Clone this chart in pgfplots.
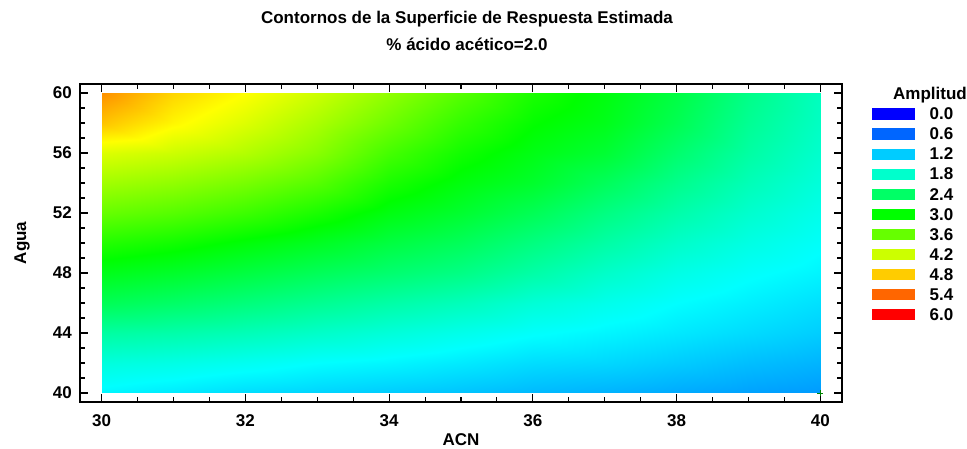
\documentclass[border=0pt]{standalone}
\usepackage{pgfplots}
\pgfplotsset{compat=1.18}
\usepackage{pgfplotstable}
\usepackage{fontspec}
\setmainfont{Liberation Sans}

\definecolor{l0}{RGB}{0,0,255}
\definecolor{l1}{RGB}{0,102,255}
\definecolor{l2}{RGB}{0,204,255}
\definecolor{l3}{RGB}{0,255,204}
\definecolor{l4}{RGB}{0,255,102}
\definecolor{l5}{RGB}{0,255,0}
\definecolor{l6}{RGB}{102,255,0}
\definecolor{l7}{RGB}{204,255,0}
\definecolor{l8}{RGB}{255,204,0}
\definecolor{l9}{RGB}{255,102,0}
\definecolor{l10}{RGB}{255,0,0}

\pgfplotstableread{
x y z
30 40 1.45
31 40 1.38
32 40 1.30
33 40 1.25
34 40 1.20
35 40 1.15
36 40 1.09
37 40 1.05
38 40 1.00
39 40 0.95
40 40 0.91
30 42 1.70
31 42 1.65
32 42 1.58
33 42 1.50
34 42 1.45
35 42 1.38
36 42 1.30
37 42 1.27
38 42 1.20
39 42 1.12
40 42 1.06
30 44 2.05
31 44 2.00
32 44 1.92
33 44 1.82
34 44 1.72
35 44 1.62
36 44 1.52
37 44 1.45
38 44 1.37
39 44 1.29
40 44 1.21
30 46 2.50
31 46 2.40
32 46 2.28
33 46 2.15
34 46 2.02
35 46 1.90
36 46 1.74
37 46 1.62
38 46 1.50
39 46 1.41
40 46 1.32
30 48 2.85
31 48 2.75
32 48 2.62
33 48 2.48
34 48 2.35
35 48 2.22
36 48 2.02
37 48 1.82
38 48 1.65
39 48 1.53
40 48 1.44
30 50 3.20
31 50 3.10
32 50 2.95
33 50 2.80
34 50 2.62
35 50 2.47
36 50 2.25
37 50 2.03
38 50 1.82
39 50 1.66
40 50 1.53
30 52 3.60
31 52 3.50
32 52 3.35
33 52 3.15
34 52 2.90
35 52 2.72
36 52 2.50
37 52 2.24
38 52 2.00
39 52 1.79
40 52 1.62
30 54 3.95
31 54 3.85
32 54 3.70
33 54 3.50
34 54 3.15
35 54 2.92
36 54 2.74
37 54 2.47
38 54 2.18
39 54 1.92
40 54 1.71
30 56 4.30
31 56 4.20
32 56 4.05
33 56 3.80
34 56 3.40
35 56 3.10
36 56 2.88
37 56 2.70
38 56 2.36
39 56 2.04
40 56 1.79
30 58 4.85
31 58 4.55
32 58 4.30
33 58 4.00
34 58 3.65
35 58 3.30
36 58 3.02
37 58 2.85
38 58 2.52
39 58 2.13
40 58 1.85
30 60 5.15
31 60 4.75
32 60 4.50
33 60 4.20
34 60 3.85
35 60 3.50
36 60 3.15
37 60 2.92
38 60 2.60
39 60 2.20
40 60 1.88
}\amp

\begin{document}
\begin{tikzpicture}[x=1pt,y=1pt]
\path[use as bounding box] (0,0) rectangle (967,449);
\begin{axis}[
  at={(80pt,47pt)}, anchor=south west,
  width=762pt, height=318pt, scale only axis,
  xmin=29.7, xmax=40.3, ymin=39.4, ymax=60.6,
  xtick={30,32,34,36,38,40}, ytick={40,44,48,52,56,60},
  minor x tick num=3, minor y tick num=3,
  tick pos=both, tick align=inside,
  major tick length=8pt, minor tick length=5pt,
  axis line style={line width=1.6pt},
  every tick/.style={black, line width=1.1pt},
  /pgf/number format/assume math mode=true,
  tick label style={font=\bfseries\fontsize{17}{20}\selectfont},
  xticklabel style={inner sep=0pt, anchor=north, yshift=-12pt},
  yticklabel style={inner sep=0pt, anchor=east, xshift=-8pt},
  xlabel={ACN}, ylabel={Agua},
  label style={font=\bfseries\fontsize{17}{20}\selectfont},
  xlabel style={at={(axis description cs:0.5,0)}, anchor=center, yshift=-38pt},
  ylabel style={at={(axis description cs:-0.0761,0.5)}, anchor=center},
  title={Contornos de la Superficie de Respuesta Estimada\\\% ácido acético=2.0},
  title style={at={(axis description cs:0.5,1)}, anchor=south, align=center, inner sep=0pt,
    font=\bfseries\fontsize{17}{27}\selectfont, yshift=27pt, xshift=6pt},
  colormap={amp}{rgb255(0)=(0,0,255) rgb255(1.5)=(0,255,255) rgb255(3)=(0,255,0) rgb255(4.5)=(255,255,0) rgb255(6)=(255,0,0)},
  point meta min=0, point meta max=6,
  legend style={at={(axis description cs:1.0394,0.9255)}, anchor=north west,
    draw=none, fill=none, inner sep=0pt, row sep=6.7pt,
    font=\bfseries\fontsize{17}{20}\selectfont,
    nodes={inner sep=0pt}},
  legend cell align=left,
  /tikz/every odd column/.append style={column sep=15pt},
  legend image code/.code={\fill[#1] (0pt,-4.5pt) rectangle (42pt,6pt);},
]
\addplot[surf, shader=interp, mesh/rows=11, mesh/cols=11, point meta=explicit, forget plot]
  table[x=x, y=y, meta=z] \amp;
\addplot[only marks, mark=+, mark size=3pt, color={rgb,255:red,0;green,130;blue,0}, forget plot]
  coordinates {(40,40)};
\addlegendimage{l0}\addlegendentry{0.0}
\addlegendimage{l1}\addlegendentry{0.6}
\addlegendimage{l2}\addlegendentry{1.2}
\addlegendimage{l3}\addlegendentry{1.8}
\addlegendimage{l4}\addlegendentry{2.4}
\addlegendimage{l5}\addlegendentry{3.0}
\addlegendimage{l6}\addlegendentry{3.6}
\addlegendimage{l7}\addlegendentry{4.2}
\addlegendimage{l8}\addlegendentry{4.8}
\addlegendimage{l9}\addlegendentry{5.4}
\addlegendimage{l10}\addlegendentry{6.0}
\end{axis}
\node[anchor=base west, inner sep=0pt, font=\bfseries\fontsize{17}{20}\selectfont] at (893,349) {Amplitud};
\end{tikzpicture}
\end{document}
